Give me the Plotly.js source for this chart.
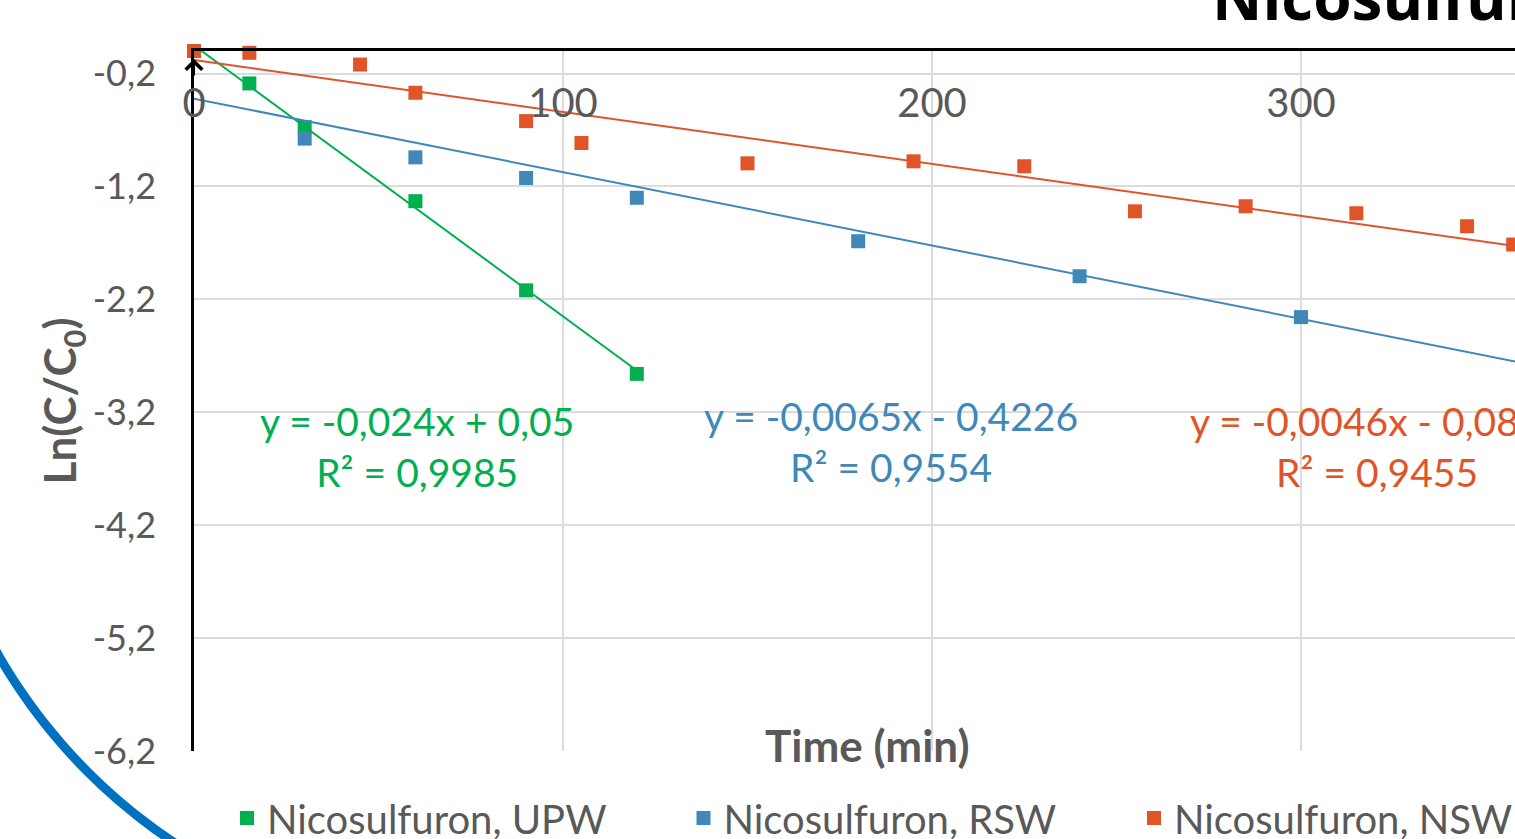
<!DOCTYPE html>
<html>
<head>
<meta charset="utf-8">
<script src="https://cdn.plot.ly/plotly-3.0.1.min.js"></script>
<style>html,body{margin:0;padding:0;background:#fff;}#chart{width:1515px;height:839px;}</style>
</head>
<body>
<div id="chart"></div>
<script>
// ---- data ----
const seriesNames = ['Nicosulfuron, UPW', 'Nicosulfuron, RSW', 'Nicosulfuron, NSW'];
const seriesColors = ['#00b050', '#3f88b7', '#e05428'];

const upwTime = [0, 15, 30, 60, 90, 120];
const upwLn   = [0, -0.287, -0.674, -1.33, -2.12, -2.86];

const rswTime = [0, 30, 60, 90, 120, 180, 240, 300];
const rswLn   = [0, -0.776, -0.942, -1.125, -1.30, -1.685, -1.995, -2.357];

const nswTime = [0, 15, 45, 60, 90, 105, 150, 195, 225, 255, 285, 315, 345, 357.5];
const nswLn   = [0, -0.016, -0.12, -0.37, -0.621, -0.815, -0.995, -0.977, -1.021, -1.42, -1.375, -1.437, -1.552, -1.714];

// linear trendlines shown on the chart
const trendSlope     = [-0.024, -0.0065, -0.0046];
const trendIntercept = [0.05, -0.4226, -0.08];
const trendEnd       = [120, 400, 400];
const trendEquation  = ['y = -0,024x + 0,05', 'y = -0,0065x - 0,4226', 'y = -0,0046x - 0,0802'];
const trendR2        = ['R² = 0,9985', 'R² = 0,9554', 'R² = 0,9455'];

const xTickVals = [0, 100, 200, 300];
const xTickText = ['0', '100', '200', '300'];
const yTickVals = [-0.2, -1.2, -2.2, -3.2, -4.2, -5.2, -6.2];
const yTickText = ['-0,2', '-1,2', '-2,2', '-3,2', '-4,2', '-5,2', '-6,2'];

const chartTitle = 'Nicosulfuron';
const xTitle = 'Time (min)';
const yTitle = 'Ln(C/C<sub>0</sub>)';

// ---- build ----
const FONT = 'Lato, "Open Sans", sans-serif';
const GREY = '#595959';
const times = [upwTime, rswTime, nswTime];
const lns = [upwLn, rswLn, nswLn];
const legendIds = ['legend', 'legend2', 'legend3'];

const traces = [];
for (let i = 0; i < 3; i++) {
  traces.push({
    type: 'scatter', mode: 'markers', name: seriesNames[i],
    x: times[i], y: lns[i],
    marker: {symbol: 'square', size: 14, color: seriesColors[i]},
    cliponaxis: false, legend: legendIds[i], hoverinfo: 'x+y'
  });
}
for (let i = 0; i < 3; i++) {
  const xs = [0, trendEnd[i]];
  traces.push({
    type: 'scatter', mode: 'lines', showlegend: false,
    x: xs, y: xs.map(v => trendSlope[i] * v + trendIntercept[i]),
    line: {color: seriesColors[i], width: 2}, hoverinfo: 'skip'
  });
}

// layout helpers (pixel -> paper) for decorations
const L = 194, T = 51, PW = 1321, PH = 700;
const px2x = p => (p - L) / PW;
const px2y = p => (T + PH - p) / PH;

// decorative blue arc of the slide, lower-left
let arc = '';
const cx = 485, cy = 375, R = 561.5;
for (let a = 152; a >= 116; a -= 1) {
  const r = a * Math.PI / 180;
  const px = cx + R * Math.cos(r), py = cy + R * Math.sin(r);
  arc += (arc ? ' L ' : 'M ') + px2x(px).toFixed(5) + ',' + px2y(py).toFixed(5);
}

const eqPos = [[60.5, -3.50], [189, -3.46], [320.7, -3.50]];
const annotations = [];
for (let i = 0; i < 3; i++) {
  annotations.push({
    x: eqPos[i][0], y: eqPos[i][1], xref: 'x', yref: 'y',
    text: trendEquation[i] + '<br>' + trendR2[i], showarrow: false,
    align: 'center', xanchor: 'center', yanchor: 'middle',
    font: {family: FONT, size: 39, color: seriesColors[i]}
  });
}
annotations.push({
  x: px2x(867), y: px2y(745), xref: 'paper', yref: 'paper',
  text: '<b>' + xTitle + '</b>', showarrow: false, xanchor: 'center', yanchor: 'middle',
  font: {family: FONT, size: 44, color: GREY}
});
annotations.push({
  x: px2x(1210), y: px2y(40), xref: 'paper', yref: 'paper',
  text: '<b>' + chartTitle + '</b>', showarrow: false, xanchor: 'left', yanchor: 'bottom',
  font: {family: '"Open Sans", sans-serif', size: 62, color: '#000'}
});
annotations.push({
  x: 0, y: -0.07, xref: 'x', yref: 'y', text: '', showarrow: true,
  ax: 0, ay: 18, arrowhead: 4, arrowsize: 1.6, arrowwidth: 2, arrowcolor: '#000'
});

const legendBase = {
  orientation: 'h', xanchor: 'left', yanchor: 'middle', y: px2y(818),
  bgcolor: 'rgba(0,0,0,0)', font: {family: FONT, size: 40, color: GREY}
};
const layout = {
  width: 1515, height: 839,
  margin: {l: L, r: 0, t: T, b: 839 - T - PH, pad: 0, autoexpand: false},
  paper_bgcolor: '#fff', plot_bgcolor: '#fff',
  font: {family: FONT, color: GREY},
  xaxis: {
    range: [0, PW / 3.69], side: 'top', tickvals: xTickVals, ticktext: xTickText,
    ticklabelposition: 'inside', ticklabeloverflow: 'allow', ticklabelstandoff: 43,
    ticks: '', showline: true, linecolor: '#000', linewidth: 2.5,
    showgrid: true, gridcolor: '#dcdcdc', gridwidth: 1.5, zeroline: false,
    tickfont: {family: FONT, size: 40, color: GREY}, fixedrange: true
  },
  yaxis: {
    range: [-6.2, 0], tickvals: yTickVals, ticktext: yTickText,
    ticks: '', ticklabelstandoff: 28,
    showline: true, linecolor: '#000', linewidth: 2.5,
    showgrid: true, gridcolor: '#dcdcdc', gridwidth: 1.5, zeroline: false,
    tickfont: {family: FONT, size: 36, color: GREY}, fixedrange: true,
    title: {text: yTitle, standoff: 1, font: {family: FONT, size: 44, color: GREY, weight: 700}}
  },
  legend:  Object.assign({}, legendBase, {x: px2x(227)}),
  legend2: Object.assign({}, legendBase, {x: px2x(683.5)}),
  legend3: Object.assign({}, legendBase, {x: px2x(1134)}),
  annotations: annotations,
  shapes: [{type: 'path', path: arc, xref: 'paper', yref: 'paper', layer: 'above',
            line: {color: '#0070c0', width: 9}}]
};

Plotly.newPlot('chart', traces, layout, {displayModeBar: false, responsive: false});
</script>
</body>
</html>
